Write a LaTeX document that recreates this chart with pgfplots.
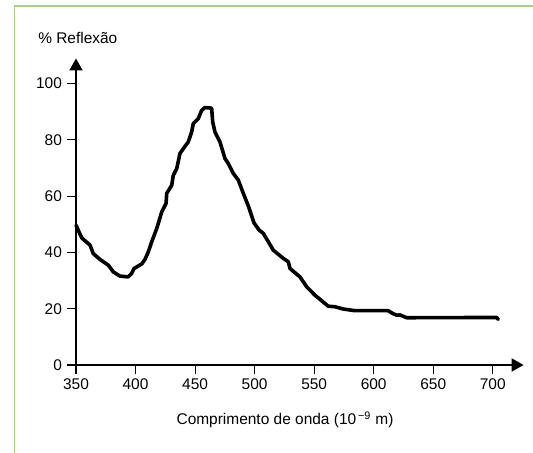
\documentclass[border=0pt]{standalone}
\usepackage{fontspec}
\setmainfont{Liberation Sans}
\usepackage{pgfplots}
\pgfplotsset{compat=1.18}
\usetikzlibrary{arrows.meta}
\definecolor{framegreen}{RGB}{168,208,141}
\pgfplotstableread{
x y
350 49.7
354.8 45.2
361.8 42.6
364.5 39.6
370.2 37.5
377.1 35.5
381.3 33.1
386.9 31.6
393.9 31.3
396.8 32.6
398.7 34.3
405.2 35.9
407.9 37.5
410.7 40.2
413.6 43.8
417.8 48.5
422 54.4
425.6 57.4
426.2 61
430.4 63.9
431.7 67.4
434.6 69.8
437.3 75.2
441.5 77.7
444.3 79.3
447.1 82.8
448.5 85.8
452.7 87.6
455.5 90.5
458.3 91.5
463.9 91.3
464.8 86.4
466.7 82.8
470.9 79.3
475.1 73.4
477.9 71.6
482.1 68.1
486.3 65.7
490.5 61
495 56.2
499.5 50.5
503.9 47.9
507.3 46.8
515.7 40.8
524.1 37.9
528.3 36.7
529.7 34.3
538.1 31.3
543.7 27.8
550.7 24.8
561.8 20.9
567.5 20.7
574.4 19.9
584.3 19.3
612.2 19.3
616 18.3
619.3 17.7
622 17.8
627.7 16.8
703.2 16.9
704.6 16.2
}\reflexao
\begin{document}
\fontsize{11.6}{13.5}\selectfont
\begin{tikzpicture}[x=0.75pt,y=0.75pt]
\useasboundingbox (0,0) rectangle (533,453);
\draw[framegreen, line width=1.1pt] (14.5,-2) -- (14.5,447) -- (535,447);
\begin{axis}[
  at={(57pt,66pt)}, anchor=south west,
  width=335.8pt, height=230pt, scale only axis,
  xmin=350, xmax=726, ymin=0, ymax=109,
  axis x line=bottom, axis y line=left,
  axis line style={line width=2pt, -{Triangle[length=9pt,width=9.4pt]}},
  xtick={350,400,...,700}, ytick={0,20,...,100},
  tick align=outside, major tick length=6.5pt,
  tick style={black, line width=0.8pt},
  ticklabel style={font=\fontsize{11.6}{13.5}\selectfont},
  /pgf/number format/assume math mode=true,
  clip=false,
]
\addplot[black, line width=2.7pt, line join=round, line cap=round] table[x=x,y=y] {\reflexao};
\end{axis}
\node[anchor=base west, inner sep=0pt] at (38,409.5) {\% Reflexão};
\node[anchor=base, inner sep=0pt] at (285,28) {Comprimento de onda (10\textsuperscript{\,−9} m)};
\end{tikzpicture}
\end{document}
